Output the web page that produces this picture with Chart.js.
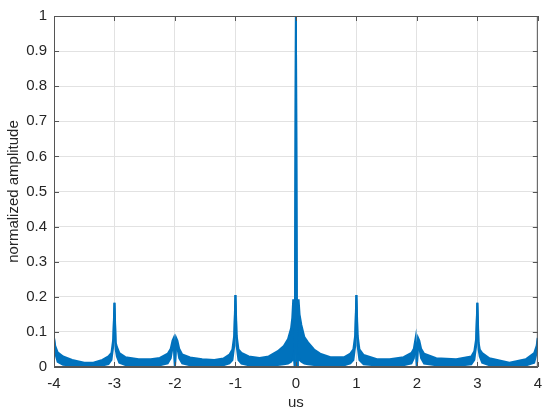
<!DOCTYPE html>
<html>
<head>
<meta charset="utf-8">
<script src="https://cdn.jsdelivr.net/npm/chart.js@4/dist/chart.umd.min.js"></script>
<style>
  html, body { margin: 0; padding: 0; background: #ffffff; }
  #wrap { width: 550px; height: 413px; }
</style>
</head>
<body>
<div id="wrap"><canvas id="c" width="550" height="413"></canvas></div>
<script>
// x positions (us) where the envelope of the trace was read
const xs = [
  -4.00, -3.98, -3.94, -3.85, -3.70, -3.50, -3.35, -3.20, -3.10, -3.05, -3.02, -3.00,
  -2.98, -2.96, -2.92, -2.82, -2.60, -2.40, -2.25, -2.12, -2.07, -2.04, -2.02, -2.00,
  -1.98, -1.96, -1.93, -1.88, -1.75, -1.55, -1.35, -1.20, -1.10, -1.05, -1.02, -1.00,
  -0.98, -0.95, -0.90, -0.78, -0.60, -0.45, -0.30, -0.20, -0.13, -0.08, -0.06, -0.045, -0.03, -0.018, 0.00,
  0.018, 0.03, 0.045, 0.06, 0.09, 0.14, 0.20, 0.30, 0.40, 0.57, 0.80, 0.90, 0.95, 0.98, 1.00,
  1.02, 1.05, 1.12, 1.34, 1.55, 1.78, 1.91, 1.95, 1.98, 2.00,
  2.02, 2.04, 2.07, 2.12, 2.32, 2.65, 2.90, 2.95, 2.98, 3.00,
  3.02, 3.04, 3.08, 3.20, 3.53, 3.80, 3.94, 3.98, 4.00
];
// upper edge of the trace (normalized amplitude)
const upperAmp = [
  0.083, 0.060, 0.042, 0.030, 0.020, 0.012, 0.012, 0.020, 0.030, 0.040, 0.080, 0.183,
  0.070, 0.057, 0.040, 0.028, 0.022, 0.022, 0.026, 0.038, 0.052, 0.075, 0.083, 0.000,
  0.083, 0.075, 0.052, 0.036, 0.027, 0.022, 0.020, 0.024, 0.035, 0.050, 0.090, 0.205,
  0.090, 0.050, 0.040, 0.030, 0.026, 0.030, 0.045, 0.060, 0.080, 0.110, 0.140, 0.190, 0.190, 0.000, 1.000,
  0.000, 0.190, 0.190, 0.150, 0.120, 0.085, 0.070, 0.050, 0.038, 0.028, 0.028, 0.038, 0.050, 0.090, 0.205,
  0.090, 0.050, 0.034, 0.022, 0.022, 0.028, 0.040, 0.052, 0.083, 0.000,
  0.083, 0.075, 0.052, 0.038, 0.025, 0.022, 0.030, 0.045, 0.080, 0.183,
  0.070, 0.050, 0.040, 0.025, 0.012, 0.022, 0.040, 0.060, 0.083
];
// lower edge of the trace (normalized amplitude)
const lowerAmp = [
  0.083, 0.040, 0.015, 0.006, 0.004, 0.003, 0.003, 0.004, 0.008, 0.020, 0.060, 0.183,
  0.050, 0.030, 0.012, 0.006, 0.003, 0.003, 0.005, 0.010, 0.025, 0.055, 0.070, 0.000,
  0.070, 0.055, 0.025, 0.010, 0.005, 0.003, 0.003, 0.005, 0.010, 0.020, 0.060, 0.205,
  0.060, 0.020, 0.010, 0.005, 0.004, 0.005, 0.006, 0.008, 0.010, 0.015, 0.020, 0.030, 0.020, 0.000, 1.000,
  0.000, 0.020, 0.030, 0.020, 0.015, 0.010, 0.008, 0.006, 0.005, 0.004, 0.005, 0.010, 0.020, 0.060, 0.205,
  0.060, 0.020, 0.008, 0.004, 0.003, 0.005, 0.010, 0.025, 0.070, 0.000,
  0.070, 0.055, 0.025, 0.010, 0.005, 0.003, 0.008, 0.020, 0.060, 0.183,
  0.050, 0.030, 0.012, 0.005, 0.003, 0.004, 0.012, 0.040, 0.083
];
const xTicks = [-4, -3, -2, -1, 0, 1, 2, 3, 4];
const xTickLabels = ['-4', '-3', '-2', '-1', '0', '1', '2', '3', '4'];
const yTicks = [0, 0.1, 0.2, 0.3, 0.4, 0.5, 0.6, 0.7, 0.8, 0.9, 1];
const yTickLabels = ['0', '0.1', '0.2', '0.3', '0.4', '0.5', '0.6', '0.7', '0.8', '0.9', '1'];

const BLUE = '#0072BD';
const FONT = { family: '"Liberation Sans", Arial, Helvetica, sans-serif', size: 15 };
const TEXT = '#262626';
const GRID = '#e2e2e2';
const AXIS = '#555555';

const lowerPts = xs.map((x, i) => ({ x: x, y: lowerAmp[i] }));
const upperPts = xs.map((x, i) => ({ x: x, y: upperAmp[i] }));

const boxPlugin = {
  id: 'boxTicks',
  afterDatasetsDraw(chart) {
    const ctx = chart.ctx;
    const a = chart.chartArea;
    const xs_ = chart.scales.x, ys_ = chart.scales.y;
    ctx.save();
    ctx.strokeStyle = AXIS;
    ctx.lineWidth = 1;
    ctx.strokeRect(a.left + 0.5, a.top + 0.5, a.right - a.left - 1, a.bottom - a.top - 1);
    const L = 5;
    ctx.beginPath();
    xTicks.forEach(v => {
      const px = Math.round(xs_.getPixelForValue(v)) + 0.5;
      ctx.moveTo(px, a.bottom); ctx.lineTo(px, a.bottom - L);
      ctx.moveTo(px, a.top); ctx.lineTo(px, a.top + L);
    });
    yTicks.forEach(v => {
      const py = Math.round(ys_.getPixelForValue(v)) + 0.5;
      ctx.moveTo(a.left, py); ctx.lineTo(a.left + L, py);
      ctx.moveTo(a.right, py); ctx.lineTo(a.right - L, py);
    });
    ctx.stroke();
    ctx.restore();
  }
};

new Chart(document.getElementById('c'), {
  type: 'line',
  data: {
    datasets: [
      {
        label: 'lower',
        data: lowerPts,
        borderColor: BLUE,
        borderWidth: 2,
        pointRadius: 0,
        tension: 0,
        fill: false
      },
      {
        label: 'upper',
        data: upperPts,
        borderColor: BLUE,
        backgroundColor: BLUE,
        borderWidth: 2,
        pointRadius: 0,
        tension: 0,
        fill: '-1'
      }
    ]
  },
  options: {
    responsive: false,
    animation: false,
    devicePixelRatio: 1,
    layout: { padding: { left: 0, top: 10, right: 8, bottom: 0 } },
    plugins: { legend: { display: false }, tooltip: { enabled: false } },
    scales: {
      x: {
        type: 'linear',
        min: -4, max: 4,
        afterBuildTicks(s) { s.ticks = xTicks.map(v => ({ value: v })); },
        ticks: {
          font: FONT, color: TEXT, padding: 8, maxRotation: 0,
          callback: (v) => xTickLabels[xTicks.indexOf(v)]
        },
        grid: { color: GRID, drawTicks: false },
        border: { display: true, color: AXIS },
        title: { display: true, text: 'us', font: FONT, color: TEXT, padding: { top: 0, bottom: 1 } },
        afterFit(s) { s.height = 46; }
      },
      y: {
        type: 'linear',
        min: 0, max: 1,
        afterBuildTicks(s) { s.ticks = yTicks.map(v => ({ value: v })); },
        ticks: {
          font: FONT, color: TEXT, padding: 7,
          callback: (v) => yTickLabels[yTicks.indexOf(v)]
        },
        grid: { color: GRID, drawTicks: false },
        border: { display: true, color: AXIS },
        title: { display: true, text: 'normalized amplitude', font: FONT, color: TEXT, padding: { top: 5, bottom: 0 } },
        afterFit(s) { s.width = 54; }
      }
    }
  },
  plugins: [boxPlugin]
});
</script>
</body>
</html>
